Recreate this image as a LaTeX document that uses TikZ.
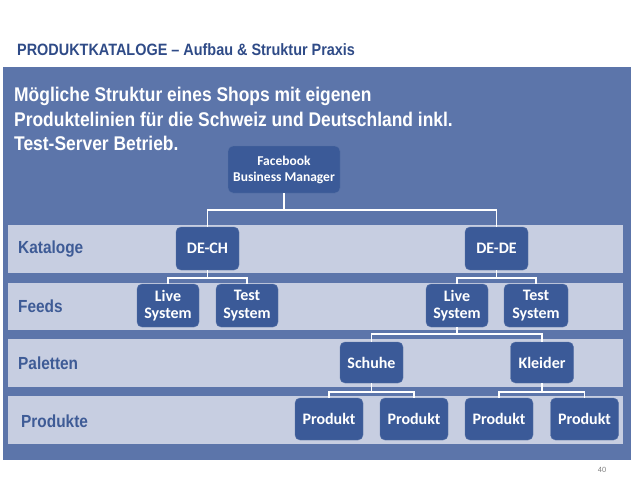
\documentclass[tikz,border=0pt]{standalone}
\usepackage{fontspec}
\setmainfont{Liberation Sans}
\newfontfamily\narrowfont[FakeStretch=0.88,Ligatures=TeX]{Liberation Sans}
\newfontfamily\boxfont{Carlito}
\definecolor{titleblue}{HTML}{2F4B87}
\definecolor{panelblue}{HTML}{5C75AA}
\definecolor{bandgray}{HTML}{C7CEE1}
\definecolor{boxblue}{HTML}{3B5A98}
\definecolor{labelblue}{HTML}{3E5B96}

\begin{document}
\begin{tikzpicture}[x=1pt,y=-1pt,
  box/.style={draw=boxblue!85!white,fill=boxblue,rounded corners=5pt,text=white,align=center,inner sep=0pt,
    minimum width=63pt,minimum height=43pt,font={\boxfont\bfseries\fontsize{16}{17.5}\selectfont}},
  band/.style={fill=bandgray},
  rowlabel/.style={anchor=west,inner sep=0pt,text=labelblue,font={\narrowfont\bfseries\fontsize{17.5}{20}\selectfont}},
  link/.style={draw=white,line width=1.5pt}]
\useasboundingbox (0,0) rectangle (638,479);
\node[anchor=base west,inner sep=0pt,text=titleblue,font={\narrowfont\bfseries\fontsize{16.4}{19}\selectfont}] (title) at (17,55) {PRODUKTKATALOGE – Aufbau \& Struktur Praxis};
\fill[panelblue] (3,67) rectangle (631,460);
\fill[band] (8,225) rectangle (623,273);
\fill[band] (8,283) rectangle (623,330);
\fill[band] (8,339) rectangle (623,387);
\fill[band] (8,396) rectangle (623,444);
\node[anchor=north west,inner sep=0pt,align=left,text=white,font={\narrowfont\bfseries\fontsize{19.8}{24.5}\selectfont}] (intro) at (14,87) {M\"ogliche Struktur eines Shops mit eigenen\\Produktelinien f\"ur die Schweiz und Deutschland inkl.\\Test-Server Betrieb.};
\node[rowlabel] (kataloge) at (18,249) {Kataloge};
\node[rowlabel] (feeds) at (18,306) {Feeds};
\node[rowlabel] (paletten) at (18,363) {Paletten};
\node[rowlabel] (produkte) at (21,421) {Produkte};
\node[box,minimum width=112pt,minimum height=47pt,font={\boxfont\bfseries\fontsize{13.5}{16}\selectfont}] (fbm) at (284,169.5) {Facebook\\Business Manager};
\node[box] (dech) at (207.5,248.5) {DE-CH};
\node[box] (dede) at (496.5,248.5) {DE-DE};
\node[box,minimum width=62pt] (chlive) at (168,305.5) {Live\\System};
\node[box,minimum width=62pt] (chtest) at (247,305.5) {Test\\System};
\node[box,minimum width=62pt] (delive) at (457,305.5) {Live\\System};
\node[box,minimum width=64pt] (detest) at (536,305.5) {Test\\System};
\node[box,minimum height=41pt] (schuhe) at (371.5,362.5) {Schuhe};
\node[box,minimum height=41pt] (kleider) at (542,362.5) {Kleider};
\node[box,minimum width=68pt,minimum height=42pt] (prod1) at (329,419) {Produkt};
\node[box,minimum width=68pt,minimum height=42pt] (prod2) at (414,419) {Produkt};
\node[box,minimum width=68pt,minimum height=42pt] (prod3) at (499,419) {Produkt};
\node[box,minimum width=68pt,minimum height=42pt] (prod4) at (584.5,419) {Produkt};
\coordinate (barA) at (0,210);
\coordinate (barB) at (0,278);
\coordinate (barC) at (0,334);
\coordinate (barD) at (0,392);
\foreach \p/\c/\b in {fbm/dech/barA,fbm/dede/barA,dech/chlive/barB,dech/chtest/barB,dede/delive/barB,dede/detest/barB,
  delive/schuhe/barC,delive/kleider/barC,schuhe/prod1/barD,schuhe/prod2/barD,kleider/prod3/barD,kleider/prod4/barD}
  \draw[link] (\p.south) -- (\p.south |- \b) -| (\c.north);
\node[text=gray,font={\fontsize{7.5}{9}\selectfont}] (pagenum) at (602,470) {40};
\end{tikzpicture}
\end{document}
